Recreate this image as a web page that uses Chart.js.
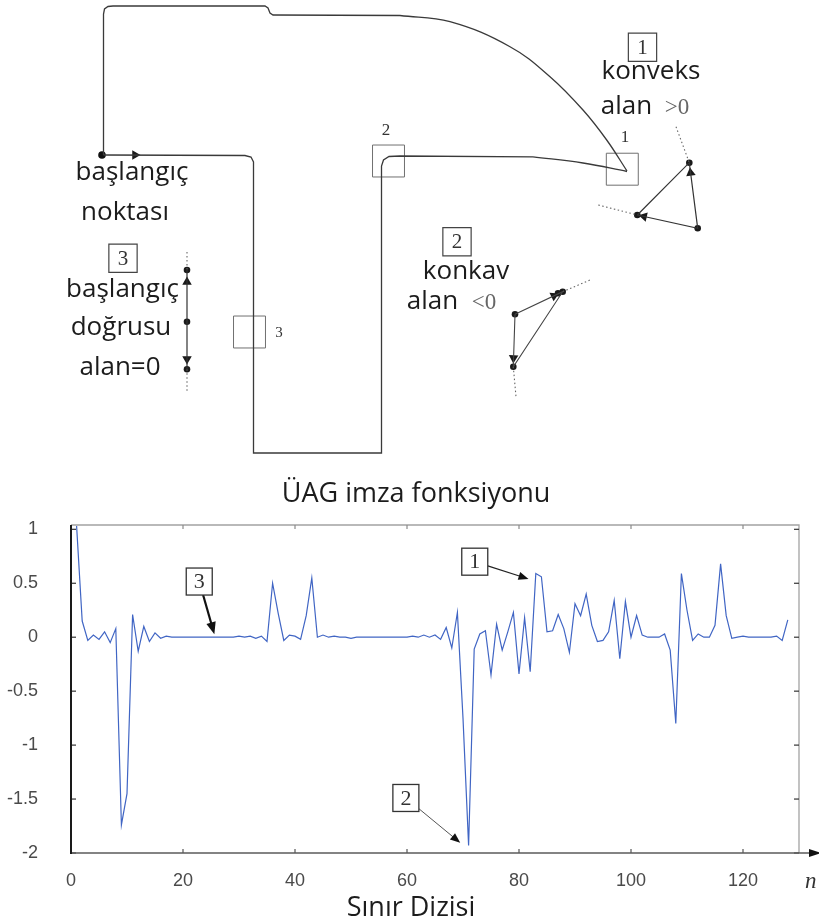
<!DOCTYPE html>
<html>
<head>
<meta charset="utf-8">
<script src="https://cdn.jsdelivr.net/npm/chart.js@4.4.1/dist/chart.umd.min.js"></script>
<style>
  html, body { margin: 0; padding: 0; background: #fff; }
  #wrap { position: relative; width: 819px; height: 924px; overflow: hidden; }
  canvas { position: absolute; left: 0; }
  #shape { top: 0; }
  #signature { top: 470px; }
</style>
</head>
<body>
<div id="wrap">
  <canvas id="shape" width="819" height="470"></canvas>
  <canvas id="signature" width="819" height="454"></canvas>
</div>
<script>
// ---- signature data ----
const boundaryIndex = [
  1, 2, 3, 4, 5, 6, 7, 8, 9, 10, 11, 12, 13, 14, 15, 16, 17, 18, 19, 20,
  21, 22, 23, 24, 25, 26, 27, 28, 29, 30, 31, 32, 33, 34, 35, 36, 37, 38, 39, 40,
  41, 42, 43, 44, 45, 46, 47, 48, 49, 50, 51, 52, 53, 54, 55, 56, 57, 58, 59, 60,
  61, 62, 63, 64, 65, 66, 67, 68, 69, 70, 71, 72, 73, 74, 75, 76, 77, 78, 79, 80,
  81, 82, 83, 84, 85, 86, 87, 88, 89, 90, 91, 92, 93, 94, 95, 96, 97, 98, 99, 100,
  101, 102, 103, 104, 105, 106, 107, 108, 109, 110, 111, 112, 113, 114, 115, 116, 117, 118, 119, 120,
  121, 122, 123, 124, 125, 126, 127, 128
];
const signatureValues = [
  1.03, 0.15, -0.03, 0.02, -0.02, 0.05, -0.05, 0.08, -1.74, -1.45,
  0.21, -0.13, 0.10, -0.04, 0.04, -0.01, 0.01, 0, 0, 0,
  0, 0, 0, 0, 0, 0, 0, 0, 0, 0.01,
  0, 0.01, -0.01, 0.01, -0.04, 0.50, 0.22, -0.03, 0.02, 0.01,
  -0.02, 0.20, 0.55, 0, 0.02, 0, 0.01, 0, 0, -0.01,
  0, 0, 0, 0, 0, 0, 0, 0, 0, 0,
  0.01, 0, 0.02, 0, 0.02, -0.02, 0.09, -0.10, 0.23, -0.75,
  -1.93, -0.11, 0.03, 0.06, -0.35, 0.12, -0.12, 0.05, 0.23, -0.34,
  0.18, -0.32, 0.59, 0.56, 0.05, 0.06, 0.21, 0.08, -0.14, 0.31,
  0.20, 0.40, 0.11, -0.04, -0.03, 0.05, 0.34, -0.20, 0.33, 0,
  0.20, 0.02, 0, 0, 0, 0.03, -0.12, -0.80, 0.59, 0.25,
  -0.03, 0.03, 0, 0, 0.11, 0.68, 0.20, -0.01, 0, 0.01,
  0, 0, 0, 0, 0, 0.01, -0.03, 0.16
];
const xTicks = [0, 20, 40, 60, 80, 100, 120];
const yTicks = [1, 0.5, 0, -0.5, -1, -1.5, -2];
const yTickLabels = ['1', '0.5', '0', '-0.5', '-1', '-1.5', '-2'];

// ---- shape diagram data (drawing units = pixels of the upper panel) ----
const outerEdge = [[103.5, 155], [103.5, 14], [104.5, 9], [108, 6.5], [113, 6], [265, 6], [268, 8], [270, 13], [273, 15], [400, 15.5]];
const outerArc = [[400, 15.5], [450, 21.7], [510, 46.7], [550, 76.7], [583, 110], [606.7, 140], [627, 171]];
const innerEdge = [[103.5, 155], [245, 155.5], [251, 157], [253.5, 162], [253.5, 453], [381.5, 453], [381.5, 166], [383.5, 160], [389, 156.5], [400, 156], [533, 156.8]];
const innerArc = [[533, 156.8], [583, 163], [627, 171.5]];
const startPoint = [[102, 155]];
const windowCentres = [[388.5, 161], [249.5, 332], [622.3, 169.2]];
const legendBoxes = [[642.5, 47.2], [457, 241.7], [123, 258.3]];
const legendNumbers = ['1', '2', '3'];

// local point triples: straight, convex, concave
const straightLine = [[187, 270], [187, 321.7], [187, 369.3]];
const straightLead = [[[187, 252], [187, 270]], [[187, 369.3], [187, 391]]];
const convexTriangle = [[637.3, 215], [689.3, 162.7], [697.7, 228.3], [637.3, 215]];
const convexLead = [[[676, 126.7], [689.3, 162.7]], [[598.3, 205], [637.3, 215]]];
const concaveTriangle = [[515, 314.3], [562.7, 291.7], [513.3, 366.7], [515, 314.3]];
const concaveLead = [[[562.7, 291.7], [591.7, 279.3]], [[513.3, 366.7], [516, 396.7]]];
const tripleDots = [[187, 270], [187, 321.7], [187, 369.3], [689.3, 162.7], [697.7, 228.3], [637.3, 215],
  [515, 314.3], [558, 293.2], [562.7, 291.7], [513.3, 366.7]];
// arrowheads: [tip, came from]
const arrowHeads = [
  [[135, 155], [103.5, 155]],
  [[187, 282], [187, 321.7]],
  [[187, 359], [187, 321.7]],
  [[690.6, 173], [697.7, 228.3]],
  [[644, 216.5], [697.7, 228.3]],
  [[554, 295.8], [515, 314.3]],
  [[513.5, 358], [515, 314.3]]
];

const calibri = '"Open Sans", "Noto Sans", sans-serif';
const serif = '"Liberation Serif", "DejaVu Serif", serif';
const textColor = '#1c1c1c';

const diagramLabels = [
  { text: 'başlangıç', at: [132, 180], font: '26px ' + calibri, color: textColor },
  { text: 'noktası', at: [125, 220], font: '26px ' + calibri, color: textColor },
  { text: 'başlangıç', at: [122.5, 297], font: '26px ' + calibri, color: textColor },
  { text: 'doğrusu', at: [121, 335], font: '26px ' + calibri, color: textColor },
  { text: 'alan=0', at: [120, 375], font: '26px ' + calibri, color: textColor },
  { text: 'konveks', at: [651, 79], font: '26px ' + calibri, color: textColor },
  { text: 'alan', at: [626.5, 114], font: '26px ' + calibri, color: textColor },
  { text: '>0', at: [677, 114], font: '23px ' + serif, color: '#666' },
  { text: 'konkav', at: [466, 279], font: '26px ' + calibri, color: textColor },
  { text: 'alan', at: [432.5, 309], font: '26px ' + calibri, color: textColor },
  { text: '<0', at: [484, 309], font: '23px ' + serif, color: '#666' },
  { text: '2', at: [386, 135], font: '17px ' + serif, color: '#333' },
  { text: '1', at: [625, 142], font: '17px ' + serif, color: '#333' },
  { text: '3', at: [279, 337], font: '15px ' + serif, color: '#333' }
];

// callouts on the signature plot: box centre and arrow tip in data units
const callouts = [
  { text: '1', box: [72.1, 0.70], tip: [81.7, 0.54], color: '#222', width: 1.2, head: 10 },
  { text: '2', box: [59.8, -1.49], tip: [69.5, -1.905], color: '#555', width: 1, head: 10 },
  { text: '3', box: [22.9, 0.516], tip: [25.6, 0.028], color: '#111', width: 2.2, head: 12 }
];

function toXY(points) {
  return points.map(p => ({ x: p[0], y: p[1] }));
}

function pathSet(points, opts) {
  return Object.assign({
    data: toXY(points), showLine: true, borderColor: '#3a3a3a', borderWidth: 1.3,
    pointRadius: 0, tension: 0, fill: false
  }, opts || {});
}

const leadSets = [...straightLead, ...convexLead, ...concaveLead].map(seg =>
  pathSet(seg, { borderColor: '#666', borderWidth: 1.1, borderDash: [1.5, 2.5] }));

const diagramText = {
  id: 'diagramText',
  afterDatasetsDraw(chart) {
    const { ctx, scales: { x, y } } = chart;
    ctx.save();
    ctx.textAlign = 'center';
    // numbers inside the legend boxes
    ctx.textBaseline = 'middle';
    ctx.font = '21px ' + serif;
    ctx.fillStyle = '#333';
    legendBoxes.forEach((b, i) => {
      ctx.fillText(legendNumbers[i], x.getPixelForValue(b[0]), y.getPixelForValue(b[1]) + 1);
    });
    ctx.textBaseline = 'alphabetic';
    diagramLabels.forEach(l => {
      ctx.font = l.font;
      ctx.fillStyle = l.color;
      ctx.fillText(l.text, x.getPixelForValue(l.at[0]), y.getPixelForValue(l.at[1]));
    });
    ctx.restore();
  }
};

new Chart(document.getElementById('shape'), {
  type: 'scatter',
  data: {
    datasets: [
      pathSet(outerEdge),
      pathSet(outerArc, { tension: 0.4 }),
      pathSet(innerEdge),
      pathSet(innerArc, { tension: 0.4 }),
      pathSet(straightLine, { borderColor: '#333', borderWidth: 1.2 }),
      pathSet(convexTriangle, { borderColor: '#333', borderWidth: 1.2 }),
      pathSet(concaveTriangle, { borderColor: '#444', borderWidth: 1.1 }),
      ...leadSets,
      {
        data: toXY(windowCentres), showLine: false, pointStyle: 'rect', pointRadius: 22.6,
        pointBackgroundColor: 'rgba(0,0,0,0)', pointBorderColor: '#707070', pointBorderWidth: 1
      },
      {
        data: toXY(legendBoxes), showLine: false, pointStyle: 'rect', pointRadius: 20,
        pointBackgroundColor: 'rgba(255,255,255,0)', pointBorderColor: '#444', pointBorderWidth: 1.2
      },
      {
        data: toXY(tripleDots), showLine: false, pointRadius: 3.3,
        pointBackgroundColor: '#1a1a1a', pointBorderColor: '#1a1a1a', pointBorderWidth: 0
      },
      {
        data: toXY(startPoint), showLine: false, pointRadius: 3.8,
        pointBackgroundColor: '#111', pointBorderColor: '#111', pointBorderWidth: 0
      },
      {
        data: toXY(arrowHeads.map(a => a[0])), showLine: false, pointStyle: 'triangle', pointRadius: 5.5,
        pointRotation: arrowHeads.map(a => Math.atan2(a[0][0] - a[1][0], a[1][1] - a[0][1]) * 180 / Math.PI),
        pointBackgroundColor: '#1a1a1a', pointBorderColor: '#1a1a1a', pointBorderWidth: 0
      }
    ]
  },
  options: {
    responsive: false,
    animation: false,
    events: [],
    layout: { padding: 0, autoPadding: false },
    plugins: { legend: { display: false }, tooltip: { enabled: false } },
    scales: {
      x: { type: 'linear', min: 0, max: 819, display: false },
      y: { type: 'linear', min: 0, max: 470, reverse: true, display: false }
    }
  },
  plugins: [diagramText]
});

// ---- signature plot ----
function arrow(ctx, x0, y0, x1, y1, head) {
  const ang = Math.atan2(y1 - y0, x1 - x0);
  ctx.beginPath();
  ctx.moveTo(x0, y0);
  ctx.lineTo(x1 - Math.cos(ang) * head * 0.8, y1 - Math.sin(ang) * head * 0.8);
  ctx.stroke();
  ctx.beginPath();
  ctx.moveTo(x1, y1);
  ctx.lineTo(x1 - head * Math.cos(ang) + head * 0.4 * Math.sin(ang), y1 - head * Math.sin(ang) - head * 0.4 * Math.cos(ang));
  ctx.lineTo(x1 - head * Math.cos(ang) - head * 0.4 * Math.sin(ang), y1 - head * Math.sin(ang) + head * 0.4 * Math.cos(ang));
  ctx.closePath();
  ctx.fill();
}

const signatureFrame = {
  id: 'signatureFrame',
  afterDatasetsDraw(chart) {
    const { ctx, chartArea: a, scales: { x, y } } = chart;
    ctx.save();
    // light frame on the top and right
    ctx.strokeStyle = '#a3a3a3';
    ctx.lineWidth = 1.3;
    ctx.beginPath();
    ctx.moveTo(a.left, a.top);
    ctx.lineTo(a.right, a.top);
    ctx.lineTo(a.right, a.bottom);
    ctx.stroke();

    // ticks point inwards
    ctx.lineWidth = 1.2;
    xTicks.forEach(v => {
      const p = x.getPixelForValue(v);
      ctx.strokeStyle = '#555';
      ctx.beginPath(); ctx.moveTo(p, a.bottom); ctx.lineTo(p, a.bottom - 4); ctx.stroke();
      ctx.strokeStyle = '#8a8a8a';
      ctx.beginPath(); ctx.moveTo(p, a.top); ctx.lineTo(p, a.top + 4); ctx.stroke();
    });
    yTicks.forEach(v => {
      const p = y.getPixelForValue(v);
      ctx.strokeStyle = '#333';
      ctx.beginPath(); ctx.moveTo(a.left, p); ctx.lineTo(a.left + 5, p); ctx.stroke();
      ctx.beginPath(); ctx.moveTo(a.right, p); ctx.lineTo(a.right - 5, p); ctx.stroke();
    });

    // axes: left in black, bottom running out to an arrow
    ctx.strokeStyle = '#5a5a5a';
    ctx.lineWidth = 1.5;
    ctx.beginPath(); ctx.moveTo(a.left, a.bottom); ctx.lineTo(chart.width - 8, a.bottom); ctx.stroke();
    ctx.strokeStyle = '#1a1a1a';
    ctx.lineWidth = 2;
    ctx.beginPath(); ctx.moveTo(a.left, a.top); ctx.lineTo(a.left, a.bottom + 1); ctx.stroke();
    ctx.fillStyle = '#111';
    ctx.beginPath();
    ctx.moveTo(chart.width - 10, a.bottom - 4);
    ctx.lineTo(chart.width + 2, a.bottom);
    ctx.lineTo(chart.width - 10, a.bottom + 4);
    ctx.closePath();
    ctx.fill();

    // axis variable
    ctx.fillStyle = '#333';
    ctx.font = 'italic 23px ' + serif;
    ctx.textAlign = 'left';
    ctx.textBaseline = 'alphabetic';
    ctx.fillText('n', 805, a.bottom + 35);

    // titles
    ctx.fillStyle = textColor;
    ctx.textAlign = 'center';
    ctx.font = '27px ' + calibri;
    ctx.fillText('ÜAG imza fonksiyonu', 416, 32);
    ctx.fillText('Sınır Dizisi', 411, 446);

    // numbered callouts
    callouts.forEach(c => {
      const bx = x.getPixelForValue(c.box[0]);
      const by = y.getPixelForValue(c.box[1]);
      const tx = x.getPixelForValue(c.tip[0]);
      const ty = y.getPixelForValue(c.tip[1]);
      const hw = 13, hh = 13.5;
      const dx = tx - bx, dy = ty - by;
      const s = Math.min(Math.abs(hw / dx), Math.abs(hh / dy));
      ctx.strokeStyle = c.color;
      ctx.fillStyle = '#111';
      ctx.lineWidth = c.width;
      arrow(ctx, bx + dx * s, by + dy * s, tx, ty, c.head);
      ctx.fillStyle = '#fff';
      ctx.fillRect(bx - hw, by - hh, hw * 2, hh * 2);
      ctx.strokeStyle = '#333';
      ctx.lineWidth = 1.3;
      ctx.strokeRect(bx - hw, by - hh, hw * 2, hh * 2);
      ctx.fillStyle = '#333';
      ctx.font = '22px ' + serif;
      ctx.textBaseline = 'middle';
      ctx.fillText(c.text, bx, by + 1);
      ctx.textBaseline = 'alphabetic';
    });
    ctx.restore();
  }
};

const tickFont = { family: '"Liberation Sans", Arial, sans-serif', size: 18 };

new Chart(document.getElementById('signature'), {
  type: 'line',
  data: {
    datasets: [{
      data: boundaryIndex.map((n, i) => ({ x: n, y: signatureValues[i] })),
      borderColor: '#4065c4',
      borderWidth: 1.2,
      pointRadius: 0,
      tension: 0,
      fill: false
    }]
  },
  options: {
    responsive: false,
    animation: false,
    events: [],
    layout: { padding: { top: 55, right: 20, bottom: 0, left: 0 } },
    plugins: { legend: { display: false }, tooltip: { enabled: false } },
    scales: {
      x: {
        type: 'linear', min: 0, max: 130,
        grid: { display: false, drawTicks: false },
        border: { display: false },
        ticks: { color: '#4a4a4a', font: tickFont, padding: 17, maxRotation: 0, autoSkip: false },
        afterBuildTicks: s => { s.ticks = xTicks.map(v => ({ value: v })); },
        afterFit: s => { s.height = 71; }
      },
      y: {
        type: 'linear', min: -2, max: 1.04,
        grid: { display: false, drawTicks: false },
        border: { display: false },
        ticks: {
          color: '#4a4a4a', font: tickFont, padding: 33, autoSkip: false,
          callback: v => yTickLabels[yTicks.indexOf(v)]
        },
        afterBuildTicks: s => { s.ticks = yTicks.map(v => ({ value: v })); },
        afterFit: s => { s.width = 71; }
      }
    }
  },
  plugins: [signatureFrame]
});
</script>
</body>
</html>
